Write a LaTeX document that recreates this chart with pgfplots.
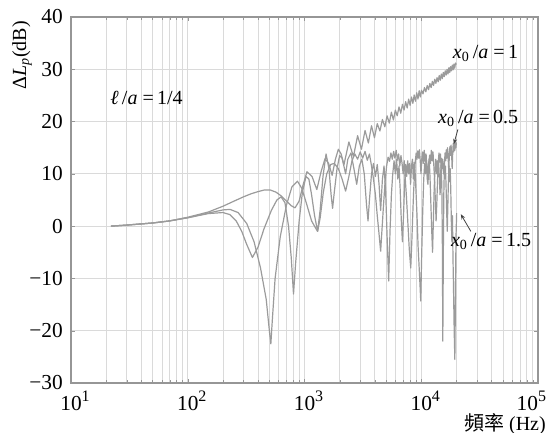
\documentclass[border=0pt]{standalone}
\usepackage{fontspec}
\setmainfont{Liberation Serif}
\newfontfamily\cjk{Noto Sans CJK TC}
\usepackage{pgfplots}
\pgfplotsset{compat=1.18}
\usetikzlibrary{calc,arrows.meta}

\definecolor{gridgray}{RGB}{218,218,218}
\definecolor{curvegray}{RGB}{155,155,155}
\definecolor{framegray}{RGB}{150,150,150}

\newcommand{\decade}[1]{10\rlap{\raisebox{0.85ex}{\fontsize{12}{12}\selectfont #1}}}

\begin{document}
\fontsize{15}{18}\selectfont
\begin{tikzpicture}
\pgfplotsset{curve/.style={color=curvegray, line width=0.9pt, line join=round, mark=none}}
\begin{axis}[
  scale only axis, width=350.25pt, height=274.5pt,
  xmode=log, xmin=10, xmax=100000, ymin=-30, ymax=40,
  xtick={10,100,1000,10000,100000},
  xticklabels={\decade{1},\decade{2},\decade{3},\decade{4},\kern-8pt\decade{5}\kern8pt},
  ytick={-30,-20,-10,0,10,20,30,40},
  yticklabels={−30,−20,−10,0,10,20,30,40},
  grid=both,
  major grid style={gridgray, line width=0.7pt},
  minor grid style={gridgray, line width=0.5pt},
  axis line style={framegray, line width=0.8pt},
  tick style={framegray},
  tick align=inside,
  major tick length=3pt, minor tick length=2pt,
  ticklabel style={font=\fontsize{16}{18}\selectfont, text=black},
  xticklabel style={yshift=-1pt},
  yticklabel style={xshift=-1pt},
]
% x0/a = 1
\addplot[curve] coordinates {(22,0) (30,0.2) (50,0.6) (70,1.0) (100,1.7) (150,2.7) (200,3.8) (250,4.8) (300,5.6) (350,6.2) (400,6.6) (450,6.9) (510,6.9) (570,6.5) (630,5.8) (700,4.8) (770,3.9) (830,3.5) (900,4.8) (970,7.8) (1050,10.4) (1160,9.5) (1275,7.0) (1390,10.5) (1500,12.9) (1610,12.0) (1725,9.7) (1840,12.8) (1950,14.7) (2060,13.8) (2175,11.7) (2400,16.1) (2625,13.3) (2850,17.3) (3075,14.7) (3300,18.3) (3525,15.9) (3750,19.2) (3975,16.9) (4200,19.6) (4425,18.2) (4650,20.4) (4875,19.0) (5100,21.1) (5325,19.7) (5550,21.8) (5775,20.3) (6000,22.2) (6225,21.1) (6450,22.8) (6675,21.6) (6900,23.3) (7125,22.2) (7350,23.8) (7575,22.6) (7800,24.3) (8025,23.1) (8250,24.7) (8475,23.5) (8700,25.1) (8925,23.9) (9150,25.5) (9375,24.3) (9600,25.9) (9825,24.7) (10050,26.0) (10350,25.3) (10650,26.5) (10950,25.7) (11250,26.9) (11550,26.1) (11850,27.3) (12150,26.5) (12450,27.7) (12750,26.9) (13050,28.1) (13350,27.3) (13650,28.4) (13950,27.6) (14250,28.8) (14550,27.9) (14850,29.1) (15150,28.2) (15450,29.4) (15750,28.6) (16050,29.7) (16350,28.9) (16650,30.0) (16950,29.1) (17250,30.3) (17550,29.4) (17850,30.5) (18150,29.7) (18450,30.8) (18750,29.9) (19050,31.0) (19350,30.2) (19650,31.2) (19950,30.9)};
% x0/a = 0.5
\addplot[curve] coordinates {(22,0) (30,0.2) (50,0.6) (70,1.0) (100,1.6) (150,2.5) (200,3.1) (230,3.2) (270,2.6) (320,0.5) (370,-3) (420,-8) (470,-14) (500,-20) (515,-22.5) (530,-18) (560,-10) (620,-2) (700,4) (780,7.5) (870,8.6) (950,7.2) (1050,4) (1150,1) (1240,-0.3) (1295,-1) (1360,1.5) (1450,6.5) (1550,10) (1680,11.8) (1800,12) (1950,11) (2100,9) (2250,6.7) (2400,9.5) (2550,12.5) (2700,13.8) (2850,12.8) (3000,14.2) (3150,13.0) (3300,14.3) (3450,12.6) (3600,13.8) (3750,11.5) (3900,9) (4050,6) (4200,2) (4350,-1.5) (4490,-4.8) (4600,-1) (4750,4) (4900,8.5) (5050,11.5) (5200,13.2) (5350,12.4) (5500,14) (5650,12.8) (5800,14.3) (5950,13) (6100,14.5) (6250,12.6) (6400,13.8) (6550,11.5) (6700,13.5) (6850,12) (7000,10) (7150,12.5) (7300,9) (7450,6) (7600,2.5) (7750,-1) (7900,-4.5) (8130,-8) (8300,-3) (8450,2) (8600,6.5) (8750,10) (8900,12.5) (9050,14) (9200,12.8) (9350,14.4) (9500,13) (9650,14.6) (9800,12.5) (9950,10) (10100,12.8) (10250,14.2) (10400,12) (10600,14.5) (10800,12.2) (11000,13.8) (11200,10.5) (11400,8) (11600,11) (11800,13.6) (12000,12) (12200,14.5) (12400,12.5) (12600,14.2) (12800,11.8) (13000,9) (13200,5) (13400,1) (13600,4.5) (13800,9) (14000,12.5) (14200,14) (14400,12.2) (14600,13.8) (14800,11) (15000,8) (15150,-2) (15300,-22) (15450,-6) (15600,6) (15800,12) (16000,14) (16200,12.5) (16400,14.6) (16600,13) (16800,15) (17000,13.2) (17200,10.5) (17400,13.5) (17600,15.2) (17800,13.5) (18000,15.5) (18200,13.8) (18400,11) (18600,14) (18800,15.8) (19000,14.2) (19200,16) (19400,14.5) (19600,16.2) (19800,15) (20000,16)};
% x0/a = 1.5
\addplot[curve] coordinates {(22,0) (30,0.2) (50,0.6) (70,1.0) (100,1.6) (150,2.4) (200,2.6) (230,2.2) (260,1) (290,-1) (320,-3.5) (358,-6) (400,-4) (450,-0.5) (520,3) (580,5) (630,5.6) (680,4.5) (730,0) (770,-6) (805,-13) (840,-7) (900,1) (960,6.5) (1030,9.5) (1090,9) (1150,6) (1220,2) (1295,-1) (1360,3) (1440,9.5) (1530,13.8) (1620,11) (1690,6) (1740,3.4) (1800,6.5) (1900,11) (2000,13.5) (2100,13) (2250,10) (2350,12.8) (2500,14) (2650,11) (2800,8) (2950,11.5) (3100,12.8) (3250,10) (3400,4) (3500,1) (3600,5) (3750,10) (3900,12) (4050,9.5) (4200,11.8) (4350,8) (4490,3) (4650,9) (4800,11.5) (4950,7) (5100,-2) (5260,-10.5) (5400,-1) (5550,6) (5700,10) (5850,12.5) (6000,10) (6150,12.8) (6300,9) (6450,11.5) (6600,7) (6750,1) (6900,-3) (7050,2) (7200,8) (7350,11.8) (7500,9.5) (7650,12.5) (7800,10) (7950,12) (8100,8) (8250,11.5) (8400,12.8) (8550,9) (8700,12.2) (8850,10.5) (9000,7) (9200,2) (9400,-4) (9650,-9) (9900,-14.3) (10100,-5) (10300,3) (10500,9) (10700,12) (10900,10) (11100,12.6) (11300,8.5) (11500,11.5) (11700,13) (11900,9) (12100,4) (12300,-1) (12500,-5) (12700,1) (12900,7) (13100,11) (13300,12.8) (13500,10) (13700,12.5) (13900,9.5) (14100,12.2) (14300,9) (14500,6) (14700,10.5) (14900,13) (15100,11) (15300,12.8) (15500,10) (15700,12) (15900,9) (16100,11.5) (16300,8) (16500,3) (16700,-1) (16900,4) (17100,9) (17300,11.5) (17500,8.5) (17700,11) (17900,7) (18100,1) (18300,-3) (18500,2) (18700,-6) (18900,-12) (19150,-20) (19400,-25.5) (19650,-12) (19850,-2) (20100,2.5)};

% annotations
\node[anchor=west, inner sep=0pt] at (axis cs:21.6,24.5) {\textit{ℓ}\,/\textit{a} =\,1/4};
\node[anchor=west, inner sep=0pt] at (axis cs:18600,33) {\textit{x}\textsubscript{0}\,/\textit{a} =\,1};
\node[anchor=west, inner sep=0pt] at (axis cs:13900,20.6) {\textit{x}\textsubscript{0}\,/\textit{a} =\,0.5};
\node[anchor=west, inner sep=0pt] at (axis cs:17900,-2.9) {\textit{x}\textsubscript{0}\,/\textit{a} =\,1.5};
\draw[-{Stealth[length=4pt,width=3pt]}, black!75, line width=0.6pt] (axis cs:20600,18.5) -- (axis cs:19000,15.7);
\draw[-{Stealth[length=4pt,width=3pt]}, black!75, line width=0.6pt] (axis cs:26600,-1) -- (axis cs:21800,2.3);

\coordinate (SW) at (rel axis cs:0,0);
\coordinate (NE) at (rel axis cs:1,1);
\coordinate (YL) at (rel axis cs:0,0.895);
\coordinate (XL) at (rel axis cs:1,0);
\end{axis}
\node[rotate=90] at ($(YL)+(-36.75pt,0)$) {Δ\textit{L}\textsubscript{\textit{p}}(dB)};
\node[anchor=east, inner sep=0pt] at ($(XL)+(6pt,-31pt)$) {{\cjk 頻率} (Hz)};
\pgfresetboundingbox
\path[use as bounding box] ($(SW)+(-53.25pt,-37.5pt)$) rectangle ($(NE)+(6.75pt,12.75pt)$);
\end{tikzpicture}
\end{document}
